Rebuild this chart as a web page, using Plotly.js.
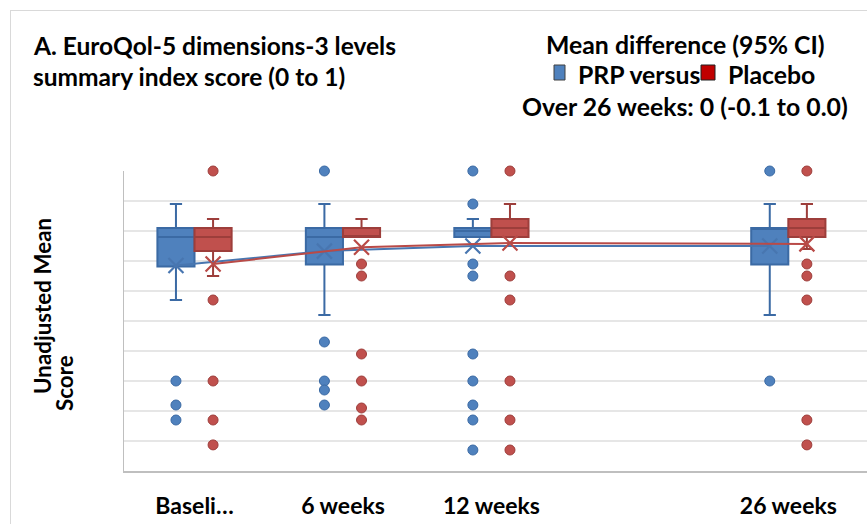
<!DOCTYPE html>
<html><head><meta charset="utf-8">
<script src="https://cdn.plot.ly/plotly-3.0.1.min.js"></script>
<style>
body{margin:0;background:#fff}
#frame{position:absolute;left:10px;top:10px;right:0;bottom:0;border-left:1px solid #d9d9d9;border-top:1px solid #d9d9d9;pointer-events:none}
</style>
</head><body>
<div id="chart" style="width:867px;height:524px"></div><div id="frame"></div>
<script>
// ---- data ----
const categories = ['Baseline', '6 weeks', '12 weeks', '26 weeks'];
const tickLabels = ['Baseli…', '6 weeks', '12 weeks', '26 weeks'];
const axisSlots = ['Baseline', '6 weeks', '12 weeks', ' ', '26 weeks'];

const prpLower  = [0.57, 0.52, 0.78, 0.52];
const prpQ1     = [0.682, 0.688, 0.78, 0.688];
const prpMedian = [0.78, 0.78, 0.80, 0.81];
const prpQ3     = [0.81, 0.81, 0.81, 0.81];
const prpUpper  = [0.89, 0.89, 0.84, 0.89];
const prpMean   = [0.685, 0.733, 0.75, 0.75];
const prpOutliers = [
  [0.30, 0.22, 0.17],
  [1.0, 0.43, 0.30, 0.27, 0.22],
  [1.0, 0.89, 0.69, 0.65, 0.39, 0.30, 0.22, 0.17, 0.07],
  [1.0, 0.30]
];

const plLower  = [0.65, 0.78, 0.78, 0.74];
const plQ1     = [0.733, 0.78, 0.78, 0.78];
const plMedian = [0.78, 0.78, 0.81, 0.81];
const plQ3     = [0.81, 0.81, 0.84, 0.84];
const plUpper  = [0.84, 0.84, 0.89, 0.89];
const plMean   = [0.69, 0.746, 0.76, 0.757];
const plOutliers = [
  [1.0, 0.57, 0.30, 0.17, 0.087],
  [0.69, 0.65, 0.39, 0.30, 0.21, 0.17],
  [1.0, 0.65, 0.57, 0.30, 0.17, 0.07],
  [1.0, 0.69, 0.65, 0.57, 0.17, 0.087]
];

// ---- styles ----
const BLUE = '#4f81bd', BLUE_D = '#3b6aa4', BLUE_L = '#4876b0';
const RED = '#c0504d', RED_D = '#9d3e3b', RED_L = '#b94a47';
const FONT = 'Lato, "Open Sans", sans-serif';

function flatX(groups){ const out=[]; groups.forEach((g,i)=>g.forEach(()=>out.push(categories[i]))); return out; }
function flatY(groups){ return [].concat(...groups); }

function boxTrace(name, lf, q1, med, q3, uf, fill, edge, grp){
  return {type:'box', name, x:categories, lowerfence:lf, q1, median:med, q3, upperfence:uf,
    boxpoints:false, fillcolor:fill, line:{color:edge, width:2}, whiskerwidth:0.33,
    offsetgroup:grp, hoverinfo:'skip', showlegend:false};
}
function meanTrace(name, y, col, grp){
  return {type:'scatter', name, x:categories, y, mode:'lines+markers', offsetgroup:grp,
    line:{color:col, width:2}, marker:{symbol:'x-thin-open', size:15, line:{color:col, width:2.2}, color:col},
    cliponaxis:false, showlegend:false};
}
function outTrace(name, groups, fill, edge, grp){
  return {type:'scatter', name, x:flatX(groups), y:flatY(groups), mode:'markers', offsetgroup:grp,
    marker:{size:10, color:fill, line:{color:edge, width:1}}, cliponaxis:false, showlegend:false};
}

const data = [
  boxTrace('PRP', prpLower, prpQ1, prpMedian, prpQ3, prpUpper, BLUE, BLUE_D, 'prp'),
  boxTrace('Placebo', plLower, plQ1, plMedian, plQ3, plUpper, RED, RED_D, 'pl'),
  outTrace('PRP outliers', prpOutliers, BLUE, BLUE_D, 'prp'),
  outTrace('Placebo outliers', plOutliers, RED, RED_D, 'pl'),
  meanTrace('PRP mean', prpMean, BLUE_L, 'prp'),
  meanTrace('Placebo mean', plMean, RED_L, 'pl')
];

// pixel helpers for layout placement
const L=124, R=867, T=171, B=471;
const px = p => (p - L) / (R - L);
const py = p => (B - p) / (B - T);
const tf = (s) => ({family:FONT, size:s, color:'#000', weight:700});

const layout = {
  width:867, height:524,
  margin:{l:L, r:867-R, t:T, b:524-B, pad:0},
  paper_bgcolor:'#fff', plot_bgcolor:'#fff',
  showlegend:false,
  boxmode:'group', boxgap:0.5, boxgroupgap:0,
  scattermode:'group', scattergap:0.5,
  xaxis:{type:'category', categoryorder:'array', categoryarray:axisSlots,
    range:[-0.475, 4.53], tickmode:'array', tickvals:categories, ticktext:tickLabels,
    showgrid:false, zeroline:false, showline:true, linecolor:'#bfbfbf', linewidth:1.5,
    ticks:'', ticklabelstandoff:14, tickfont:tf(23)},
  yaxis:{range:[0,1], dtick:0.1, tick0:0, showticklabels:false, ticks:'',
    showgrid:true, gridcolor:'#e6e6e6', gridwidth:1.5, zeroline:false,
    showline:true, linecolor:'#bfbfbf', linewidth:1.5},
  annotations:[
    {xref:'paper', yref:'paper', x:px(31), y:py(45), xanchor:'left', yanchor:'middle', showarrow:false,
      text:'A. EuroQol-5 dimensions-3 levels', font:tf(24.5)},
    {xref:'paper', yref:'paper', x:px(31), y:py(76), xanchor:'left', yanchor:'middle', showarrow:false,
      text:'summary index score (0 to 1)', font:tf(24.5)},
    {xref:'paper', yref:'paper', x:px(685), y:py(44), xanchor:'center', yanchor:'middle', showarrow:false,
      text:'Mean difference (95% CI)', font:tf(24.8)},
    {xref:'paper', yref:'paper', x:px(576), y:py(75), xanchor:'left', yanchor:'middle', showarrow:false,
      text:'PRP versus', font:tf(24.8)},
    {xref:'paper', yref:'paper', x:px(726), y:py(75), xanchor:'left', yanchor:'middle', showarrow:false,
      text:'Placebo', font:tf(24.8)},
    {xref:'paper', yref:'paper', x:px(685), y:py(106), xanchor:'center', yanchor:'middle', showarrow:false,
      text:'Over 26 weeks: 0 (-0.1 to 0.0)', font:tf(24.8)},
    {xref:'paper', yref:'paper', x:px(42), y:py(306), xanchor:'center', yanchor:'middle', showarrow:false,
      textangle:-90, text:'Unadjusted Mean', font:tf(22.4)},
    {xref:'paper', yref:'paper', x:px(64), y:py(383), xanchor:'center', yanchor:'middle', showarrow:false,
      textangle:-90, text:'Score', font:tf(22.4)}
  ],
  shapes:[
    {type:'rect', xref:'paper', yref:'paper', x0:px(554), x1:px(565), y0:py(80), y1:py(65),
      fillcolor:BLUE, line:{color:'#404040', width:1}},
    {type:'rect', xref:'paper', yref:'paper', x0:px(701), x1:px(715), y0:py(80), y1:py(65),
      fillcolor:'#c00000', line:{color:'#202020', width:1}}
  ]
};

Plotly.newPlot('chart', data, layout, {displayModeBar:false, staticPlot:true});
</script>
</body></html>
